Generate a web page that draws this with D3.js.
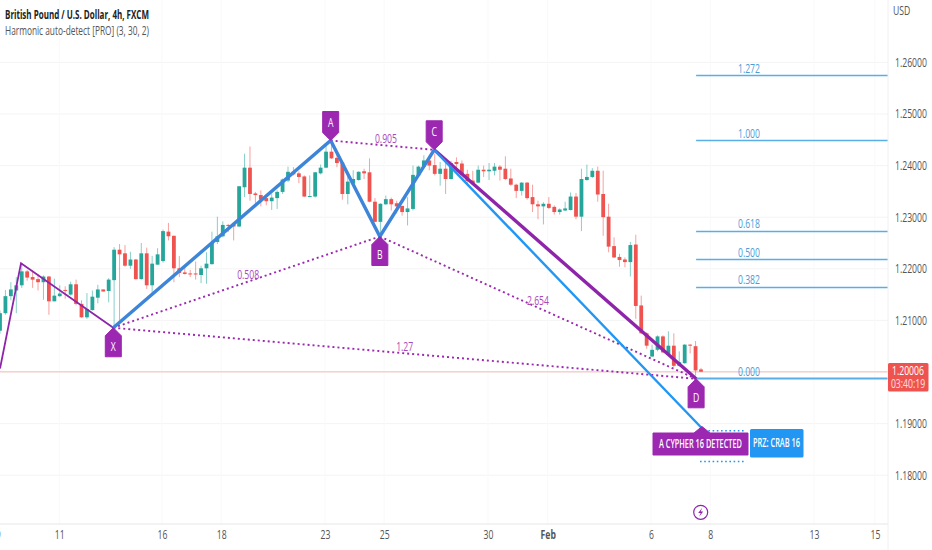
<!DOCTYPE html>
<html>
<head>
<meta charset="utf-8">
<script src="https://d3js.org/d3.v7.min.js"></script>
<style>
  body { margin: 0; background: #fff; }
  text { font-family: "Open Sans", sans-serif; }
  .axis text { fill: #555; font-size: 12px; }
</style>
</head>
<body>
<div id="my_dataviz"></div>
<script>
// candles, 4h bars
var open = [1.2080,1.2114,1.2147,1.2158,1.2168,1.2195,1.2184,1.2180,1.2174,1.2185,1.2137,1.2147,1.2159,1.2150,1.2170,1.2132,1.2106,1.2120,1.2144,1.2160,1.2157,1.2178,1.2237,1.2230,1.2206,1.2218,1.2180,1.2230,1.2168,1.2208,1.2215,1.2272,1.2264,1.2201,1.2193,1.2191,1.2191,1.2188,1.2201,1.2209,1.2252,1.2263,1.2285,1.2286,1.2282,1.2358,1.2396,1.2346,1.2343,1.2337,1.2331,1.2337,1.2349,1.2371,1.2388,1.2385,1.2379,1.2340,1.2340,1.2385,1.2396,1.2427,1.2415,1.2406,1.2345,1.2365,1.2372,1.2389,1.2387,1.2330,1.2291,1.2325,1.2335,1.2327,1.2322,1.2310,1.2316,1.2381,1.2398,1.2410,1.2401,1.2384,1.2394,1.2374,1.2407,1.2404,1.2384,1.2371,1.2367,1.2392,1.2389,1.2390,1.2398,1.2394,1.2375,1.2363,1.2351,1.2367,1.2339,1.2325,1.2321,1.2326,1.2320,1.2310,1.2313,1.2314,1.2340,1.2301,1.2372,1.2378,1.2390,1.2345,1.2301,1.2244,1.2223,1.2218,1.2213,1.2247,1.2129,1.2075,1.2030,1.2043,1.2069,1.2033,1.2051,1.2012,1.2017,1.2053,1.2050,1.2005];
var high = [1.2119,1.2159,1.2174,1.2184,1.2211,1.2198,1.2197,1.2190,1.2187,1.2186,1.2181,1.2168,1.2166,1.2175,1.2179,1.2139,1.2153,1.2158,1.2169,1.2160,1.2182,1.2242,1.2248,1.2246,1.2233,1.2219,1.2250,1.2241,1.2225,1.2240,1.2276,1.2289,1.2264,1.2225,1.2206,1.2198,1.2214,1.2206,1.2232,1.2272,1.2301,1.2292,1.2287,1.2290,1.2360,1.2423,1.2437,1.2349,1.2352,1.2339,1.2345,1.2352,1.2375,1.2398,1.2397,1.2389,1.2381,1.2381,1.2388,1.2402,1.2439,1.2445,1.2426,1.2407,1.2385,1.2391,1.2389,1.2394,1.2414,1.2337,1.2327,1.2342,1.2338,1.2332,1.2322,1.2339,1.2400,1.2400,1.2420,1.2420,1.2423,1.2407,1.2409,1.2409,1.2416,1.2410,1.2392,1.2390,1.2400,1.2400,1.2405,1.2405,1.2401,1.2418,1.2394,1.2365,1.2368,1.2368,1.2363,1.2332,1.2329,1.2339,1.2323,1.2317,1.2330,1.2348,1.2347,1.2394,1.2402,1.2395,1.2398,1.2390,1.2326,1.2261,1.2229,1.2222,1.2252,1.2266,1.2148,1.2077,1.2053,1.2071,1.2071,1.2079,1.2075,1.2040,1.2054,1.2054,1.2060,1.2008];
var low = [1.2074,1.2111,1.2139,1.2114,1.2163,1.2177,1.2163,1.2158,1.2140,1.2111,1.2137,1.2145,1.2142,1.2148,1.2129,1.2105,1.2103,1.2119,1.2133,1.2156,1.2135,1.2087,1.2100,1.2204,1.2200,1.2179,1.2179,1.2161,1.2153,1.2208,1.2212,1.2255,1.2174,1.2184,1.2189,1.2184,1.2179,1.2172,1.2171,1.2208,1.2248,1.2261,1.2271,1.2255,1.2281,1.2339,1.2332,1.2327,1.2321,1.2323,1.2314,1.2316,1.2345,1.2368,1.2381,1.2366,1.2339,1.2339,1.2338,1.2383,1.2395,1.2413,1.2397,1.2334,1.2325,1.2363,1.2371,1.2374,1.2329,1.2290,1.2261,1.2324,1.2313,1.2307,1.2303,1.2284,1.2313,1.2379,1.2397,1.2391,1.2381,1.2361,1.2345,1.2373,1.2387,1.2381,1.2365,1.2363,1.2366,1.2378,1.2372,1.2381,1.2371,1.2372,1.2361,1.2337,1.2342,1.2334,1.2310,1.2296,1.2286,1.2316,1.2305,1.2305,1.2312,1.2313,1.2296,1.2273,1.2371,1.2376,1.2330,1.2264,1.2232,1.2221,1.2204,1.2203,1.2185,1.2103,1.2074,1.2045,1.2029,1.2040,1.2037,1.2031,1.2009,1.2011,1.2016,1.2036,1.1993,1.2000];
var close = [1.2114,1.2147,1.2160,1.2168,1.2195,1.2183,1.2179,1.2174,1.2185,1.2137,1.2148,1.2152,1.2158,1.2170,1.2132,1.2106,1.2122,1.2146,1.2160,1.2156,1.2179,1.2237,1.2228,1.2206,1.2218,1.2180,1.2230,1.2168,1.2210,1.2228,1.2273,1.2263,1.2201,1.2192,1.2190,1.2190,1.2189,1.2201,1.2210,1.2252,1.2263,1.2285,1.2284,1.2282,1.2360,1.2396,1.2345,1.2343,1.2334,1.2331,1.2338,1.2349,1.2373,1.2388,1.2383,1.2378,1.2340,1.2341,1.2387,1.2396,1.2427,1.2414,1.2405,1.2345,1.2369,1.2374,1.2388,1.2385,1.2330,1.2291,1.2326,1.2335,1.2325,1.2321,1.2310,1.2317,1.2382,1.2398,1.2410,1.2400,1.2384,1.2394,1.2374,1.2405,1.2403,1.2382,1.2370,1.2365,1.2392,1.2389,1.2392,1.2398,1.2392,1.2374,1.2363,1.2351,1.2367,1.2337,1.2325,1.2321,1.2326,1.2318,1.2310,1.2315,1.2317,1.2340,1.2301,1.2374,1.2378,1.2390,1.2344,1.2300,1.2243,1.2222,1.2217,1.2213,1.2246,1.2128,1.2075,1.2051,1.2043,1.2069,1.2038,1.2051,1.2012,1.2019,1.2053,1.2051,1.2003,1.20006];

// axes
var priceTicks = [1.26,1.25,1.24,1.23,1.22,1.21,1.19,1.18];
var dateBars = [-0.4,10.9,29.8,40.7,59.8,70.7,89.8,100.8,119.8,130.7,149.8,161];
var dateLabels = ["9","11","16","18","23","25","30","Feb","6","8","13","15"];

// harmonic pattern, [bar, price]
var leadIn = [[0,1.20068],[3.87,1.22109],[20.85,1.20857]];
var pointNames = ["X","A","B","C","D"];
var pointBars = [20.85,60.85,69.9,79.9,128.1];
var pointPrices = [1.20857,1.24486,1.22626,1.24306,1.19868];
var pointSides = ["below","above","below","above","below"];
var projection = [[79.9,1.24306],[130.1,1.18808]];
var ratioLines = [[0,2,"0.508",0.506],[1,3,"0.905",0.534],[2,4,"2.654",0.5],[0,4,"1.27",0.5]];

// fib levels
var fibLabels = ["1.272","1.000","0.618","0.500","0.382","0.000"];
var fibPrices = [1.25746,1.24486,1.22723,1.22180,1.21638,1.19874];

var lastPrice = 1.20006;

var width = 932, height = 550, plotRight = 888, plotBottom = 524;

var svg = d3.select("#my_dataviz").append("svg")
    .attr("width", width).attr("height", height)
    .style("display", "block");

var x = d3.scaleLinear().domain([0, 129]).range([0, 701]);
var y = d3.scaleLinear().domain([1.18, 1.26]).range([475.2, 62.4]);

// Grid first so everything sits on top of it
svg.selectAll("hgrid").data(priceTicks.concat([1.20])).enter().append("line")
    .attr("x1", 0).attr("x2", plotRight)
    .attr("y1", function(d) { return y(d) }).attr("y2", function(d) { return y(d) })
    .attr("stroke", "#f4f4f4");
svg.selectAll("vgrid").data(dateBars).enter().append("line")
    .attr("x1", function(d) { return x(d) }).attr("x2", function(d) { return x(d) })
    .attr("y1", 0).attr("y2", plotBottom)
    .attr("stroke", "#f9f9f9");

// Last price line
svg.append("line")
    .attr("x1", 0).attr("x2", plotRight)
    .attr("y1", y(lastPrice)).attr("y2", y(lastPrice))
    .attr("stroke", "#f9cfcf").attr("stroke-width", 1.4);

// Candles
var green = "#26a69a", red = "#ef5350";
var bars = d3.range(open.length);
svg.selectAll("wicks").data(bars).enter().append("line")
    .attr("x1", function(d) { return x(d) }).attr("x2", function(d) { return x(d) })
    .attr("y1", function(d) { return y(high[d]) }).attr("y2", function(d) { return y(low[d]) })
    .attr("stroke", function(d) { return close[d] >= open[d] ? green : red })
    .attr("stroke-opacity", 0.55);
svg.selectAll("bodies").data(bars).enter().append("rect")
    .attr("x", function(d) { return x(d) - 1.9 })
    .attr("width", 3.8)
    .attr("y", function(d) { return y(Math.max(open[d], close[d])) })
    .attr("height", function(d) { return Math.max(1, Math.abs(y(open[d]) - y(close[d]))) })
    .attr("fill", function(d) { return close[d] >= open[d] ? green : red });

// Fib levels
var fibBlue = "#5aaee6";
svg.selectAll("fibs").data(fibPrices).enter().append("line")
    .attr("x1", x(pointBars[4])).attr("x2", plotRight)
    .attr("y1", function(d) { return y(d) }).attr("y2", function(d) { return y(d) })
    .attr("stroke", fibBlue)
    .attr("stroke-width", function(d, i) { return i == 5 ? 1.8 : 1.3 });
svg.selectAll("fibText").data(fibPrices).enter().append("text")
    .attr("x", 749)
    .attr("y", function(d) { return y(d) - 3 })
    .attr("text-anchor", "middle")
    .attr("font-size", 12)
    .attr("fill", "#4a9ed8")
    .text(function(d, i) { return fibLabels[i] });

var line = d3.line()
    .x(function(d) { return x(d[0]) })
    .y(function(d) { return y(d[1]) });
var pts = pointBars.map(function(b, i) { return [b, pointPrices[i]] });

// Dotted ratio lines
var purple = "#9c27b0";
svg.selectAll("ratioLines").data(ratioLines).enter().append("path")
    .attr("d", function(d) { return line([pts[d[0]], pts[d[1]]]) })
    .attr("fill", "none")
    .attr("stroke", purple)
    .attr("stroke-width", 1.9)
    .attr("stroke-dasharray", "2 3");

// Lead-in leg
svg.append("path").attr("d", line(leadIn))
    .attr("fill", "none").attr("stroke", "#8e24aa").attr("stroke-width", 1.8);

// C to D leg and the projected leg
svg.append("path").attr("d", line([pts[3], pts[4]]))
    .attr("fill", "none").attr("stroke", "#8e24aa").attr("stroke-width", 3.4);
svg.append("path").attr("d", line(projection))
    .attr("fill", "none").attr("stroke", "#2196f3").attr("stroke-width", 2.4);

// X A B C legs
svg.append("path").attr("d", line(pts.slice(0, 4)))
    .attr("fill", "none").attr("stroke", "#3d85d9").attr("stroke-width", 3.4)
    .attr("stroke-linejoin", "miter");

// Ratio labels sit just above their line
svg.selectAll("ratioText").data(ratioLines).enter().append("text")
    .attr("x", function(d) { return x(pts[d[0]][0] + (pts[d[1]][0] - pts[d[0]][0]) * d[3]) })
    .attr("y", function(d) { return y(pts[d[0]][1] + (pts[d[1]][1] - pts[d[0]][1]) * d[3]) - 2.5 })
    .attr("text-anchor", "middle")
    .attr("font-size", 12)
    .attr("fill", "#ab47bc")
    .text(function(d) { return d[2] });

// Point tags
var tags = svg.selectAll("tags").data(pts).enter().append("g")
    .attr("transform", function(d) { return "translate(" + x(d[0]) + "," + y(d[1]) + ")" });
tags.append("path")
    .attr("d", function(d, i) {
        var s = pointSides[i] == "above" ? -1 : 1;
        return "M0,0L8," + (s * 8) + "V" + (s * 29) + "H-8V" + (s * 8) + "Z";
    })
    .attr("fill", purple)
    .attr("stroke", purple)
    .attr("stroke-linejoin", "round");
tags.append("text")
    .attr("y", function(d, i) { return pointSides[i] == "above" ? -14 : 23 })
    .attr("text-anchor", "middle")
    .attr("font-size", 12)
    .attr("fill", "#fff")
    .text(function(d, i) { return pointNames[i] });

// PRZ dotted bounds
var prz = [1.1886, 1.18265];
svg.selectAll("przLines").data(prz).enter().append("line")
    .attr("x1", 700).attr("x2", 745)
    .attr("y1", function(d) { return y(d) }).attr("y2", function(d) { return y(d) })
    .attr("stroke", "#2196f3").attr("stroke-width", 1.5)
    .attr("stroke-dasharray", "1.6 2.6");

// Detection labels
var tipX = x(projection[1][0]) - 5;
svg.append("path")
    .attr("d", "M653,433H" + (tipX - 8) + "L" + tipX + ",426.5L" + (tipX + 8) + ",433H748V455H653Z")
    .attr("fill", purple).attr("stroke", purple).attr("stroke-linejoin", "round");
svg.append("text").attr("x", 700.5).attr("y", 448)
    .attr("text-anchor", "middle").attr("font-size", 12).attr("font-weight", "600").attr("fill", "#fff")
    .attr("data-w", 83)
    .text("A CYPHER 16 DETECTED");
svg.append("rect").attr("x", 750).attr("y", 429).attr("width", 53.5).attr("height", 28.5).attr("rx", 1.5)
    .attr("fill", "#2196f3");
svg.append("text").attr("x", 776.5).attr("y", 447)
    .attr("text-anchor", "middle").attr("font-size", 12).attr("font-weight", "600").attr("fill", "#fff")
    .attr("data-w", 47)
    .text("PRZ: CRAB 16");

// Lightning marker
var bolt = svg.append("g").attr("transform", "translate(700.7,512.3)");
bolt.append("circle").attr("r", 7).attr("fill", "#fff").attr("stroke", "#8e24aa").attr("stroke-width", 1.2);
bolt.append("path").attr("d", "M1.5,-4.5L-2.5,0.8H0L-1.5,4.5L2.5,-0.8H0Z").attr("fill", "#8e24aa");

// Axis borders
svg.append("line").attr("x1", 0).attr("x2", plotRight).attr("y1", plotBottom).attr("y2", plotBottom).attr("stroke", "#e6e6e6");
svg.append("line").attr("x1", plotRight).attr("x2", plotRight).attr("y1", 0).attr("y2", height).attr("stroke", "#f0f0f0");

// Right axis
var yAxis = svg.append("g").attr("class", "axis")
    .attr("transform", "translate(" + plotRight + ",0)")
    .call(d3.axisRight(y).tickValues(priceTicks).tickFormat(d3.format(".5f")).tickSize(0).tickPadding(7));
yAxis.select(".domain").remove();

// Bottom axis
var xAxis = svg.append("g").attr("class", "axis")
    .attr("transform", "translate(0," + plotBottom + ")")
    .call(d3.axisBottom(x).tickValues(dateBars)
        .tickFormat(function(d, i) { return dateLabels[i] }).tickSize(0).tickPadding(6));
xAxis.select(".domain").remove();
xAxis.selectAll("text").filter(function(d, i) { return dateLabels[i] == "Feb" }).attr("font-weight", "bold");

svg.append("text").attr("x", 893).attr("y", 15).attr("font-size", 12).attr("fill", "#555").text("USD");

// Last price tag
svg.append("rect").attr("x", 888).attr("y", 363).attr("width", 40.5).attr("height", 28.5).attr("rx", 1.5).attr("fill", red);
svg.append("text").attr("x", 908).attr("y", 375).attr("text-anchor", "middle").attr("font-size", 12).attr("fill", "#fff").text(d3.format(".5f")(lastPrice));
svg.append("text").attr("x", 908).attr("y", 388).attr("text-anchor", "middle").attr("font-size", 12).attr("fill", "#fde0e0").text("03:40:19");

// Legend
svg.append("text").attr("x", 5).attr("y", 19).attr("font-size", 13).attr("font-weight", "bold").attr("fill", "#222")
    .attr("data-w", 144)
    .text("British Pound / U.S. Dollar, 4h, FXCM");
svg.append("text").attr("x", 5).attr("y", 35).attr("font-size", 13).attr("fill", "#555")
    .attr("data-w", 144)
    .text("Harmonic auto-detect [PRO] (3, 30, 2)");

// The picture's type is much narrower than any installed face, so squeeze it
svg.selectAll("text").each(function() {
    var w = this.getAttribute("data-w") || this.getComputedTextLength() * 0.72;
    d3.select(this).attr("textLength", w).attr("lengthAdjust", "spacingAndGlyphs");
});
</script>
</body>
</html>
